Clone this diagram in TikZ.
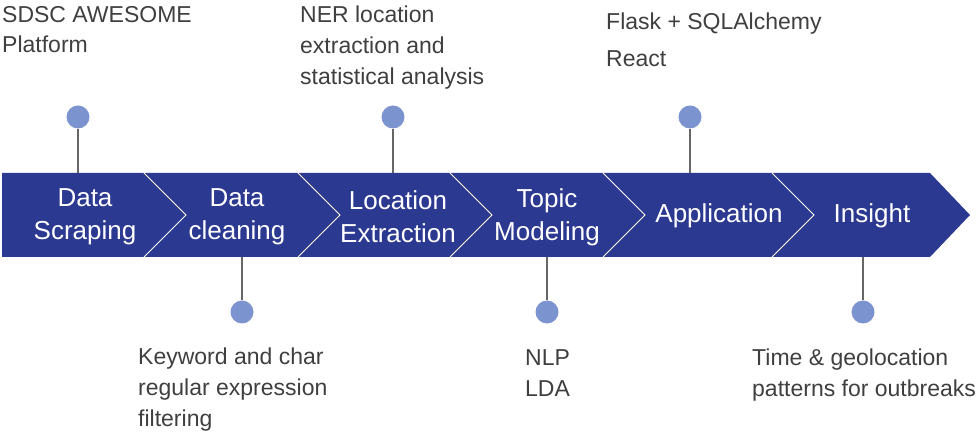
\documentclass[tikz,border=0pt]{standalone}
\usepackage{fontspec}
\setmainfont{Liberation Sans}
\definecolor{bandblue}{HTML}{2B3990}
\definecolor{dotblue}{HTML}{7B93CF}
\definecolor{notegray}{HTML}{3F3F3F}
\definecolor{stemgray}{HTML}{666666}
\tikzset{
	stage/.style={text=white, align=center, inner sep=0pt, font=\fontsize{26}{33}\selectfont},
	note/.style={text=notegray, align=left, anchor=base west, inner sep=0pt, font=\fontsize{23}{31}\selectfont},
	pin/.style={circle, fill=dotblue, minimum size=23pt, inner sep=0pt},
	stem/.style={draw=stemgray, line width=1.2pt},
	notch/.style={draw=white, line width=0.8pt}
}
\begin{document}
\begin{tikzpicture}[x=1pt, y=1pt]
	\useasboundingbox (0,0) rectangle (980,433);
	\fill[bandblue] (2,260) -- (930,260) -- (970,218) -- (930,176) -- (2,176) -- cycle;
	\draw[notch] (144,260) -- (186,218) -- (144,176);
	\draw[notch] (298,260) -- (340,218) -- (298,176);
	\draw[notch] (450,260) -- (492,218) -- (450,176);
	\draw[notch] (603,260) -- (645,218) -- (603,176);
	\draw[notch] (772,260) -- (814,218) -- (772,176);
	\coordinate (bandtop) at (0,260);
	\coordinate (bandbottom) at (0,176);
	\node[stage] (scraping) at (85,216) {Data\\Scraping};
	\node[stage] (cleaning) at (237,216) {Data\\cleaning};
	\node[stage] (extraction) at (398,216) {Location\\Extraction};
	\node[stage] (modeling) at (547,216) {Topic\\Modeling};
	\node[stage] (application) at (719,217) {Application};
	\node[stage] (insight) at (872,217) {Insight};
	\node[pin] (awesomedot) at (78,316) {};
	\node[pin] (nerdot) at (393,316) {};
	\node[pin] (flaskdot) at (690,316) {};
	\node[pin] (regexdot) at (242,121) {};
	\node[pin] (nlpdot) at (547,121) {};
	\node[pin] (patterndot) at (863,121) {};
	\draw[stem] (awesomedot) -- (awesomedot |- bandtop);
	\draw[stem] (nerdot) -- (nerdot |- bandtop);
	\draw[stem] (flaskdot) -- (flaskdot |- bandtop);
	\draw[stem] (regexdot) -- (regexdot |- bandbottom);
	\draw[stem] (nlpdot) -- (nlpdot |- bandbottom);
	\draw[stem] (patterndot) -- (patterndot |- bandbottom);
	\node[note, font=\fontsize{23}{30}\selectfont] (awesome) at (2,380) {SDSC AWESOME\\Platform};
	\node[note] (ner) at (300,348) {NER location\\extraction and\\statistical analysis};
	\node[note, font=\fontsize{23}{37}\selectfont] (flask) at (606,366) {Flask + SQLAlchemy\\React};
	\node[note] (regex) at (138,6) {Keyword and char\\regular expression\\filtering};
	\node[note] (nlp) at (525,36) {NLP\\LDA};
	\node[note] (pattern) at (752,36) {Time \& geolocation\\patterns for outbreaks};
\end{tikzpicture}
\end{document}
